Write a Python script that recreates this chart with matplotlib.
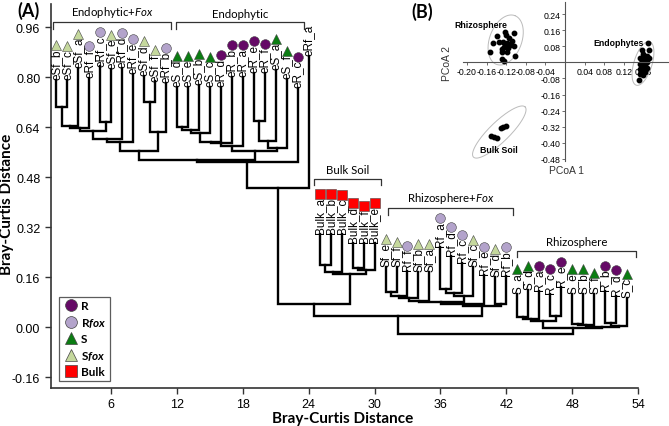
import matplotlib
matplotlib.use('Agg')
import matplotlib.pyplot as plt
from matplotlib.lines import Line2D
import numpy as np

plt.rcParams['font.family'] = 'Liberation Sans'
plt.rcParams['axes.unicode_minus'] = False
plt.rcParams['mathtext.fontset'] = 'custom'
plt.rcParams['mathtext.rm'] = 'Lato'
plt.rcParams['mathtext.it'] = 'Lato:italic'
plt.rcParams['mathtext.bf'] = 'Lato:bold'
plt.rcParams['mathtext.bfit'] = 'Lato:italic:bold'

# ---- dendrogram leaves (left to right) ----
leaf_labels = ['eSf_b', 'eSf_c', 'eSf_a', 'eRf_f', 'eRf_c', 'eSf_e', 'eRf_d', 'eRf_e',
               'eSf_d', 'eSf_f', 'eRf_b',
               'eS_d', 'eS_e', 'eS_b', 'eS_c', 'eR_d', 'eR_b', 'eR_a', 'eR_e', 'eR_f',
               'eS_a', 'eS_f', 'eR_c', 'eRf_a',
               'Bulk_a', 'Bulk_b', 'Bulk_c', 'Bulk_d', 'Bulk_f', 'Bulk_e',
               'Sf_e', 'Sf_f', 'Rf_f', 'Sf_b', 'Sf_a', 'Rf_a', 'Rf_d', 'Rf_c', 'Sf_c',
               'Rf_e', 'Sf_d', 'Rf_b',
               'S_a', 'S_d', 'R_a', 'R_c', 'R_e', 'S_e', 'S_b', 'S_f', 'R_b', 'R_d', 'S_c']
leaf_types = ['Sfox', 'Sfox', 'Sfox', 'Rfox', 'Rfox', 'Sfox', 'Rfox', 'Rfox',
              'Sfox', 'Sfox', 'Rfox',
              'S', 'S', 'S', 'S', 'R', 'R', 'R', 'R', 'R', 'S', 'S', 'R', None,
              'Bulk', 'Bulk', 'Bulk', 'Bulk', 'Bulk', 'Bulk',
              'Sfox', 'Sfox', 'Rfox', 'Sfox', 'Sfox', 'Rfox', 'Rfox', 'Rfox', 'Sfox',
              'Rfox', 'Sfox', 'Rfox',
              'S', 'S', 'R', 'R', 'R', 'S', 'S', 'S', 'R', 'R', 'S']
leaf_tips = [0.792, 0.792, 0.829, 0.797, 0.834, 0.826, 0.829, 0.810, 0.804, 0.786, 0.781,
             0.768, 0.768, 0.774, 0.768, 0.768, 0.800, 0.800, 0.813, 0.813, 0.822, 0.794,
             0.765, 0.867,
             0.298, 0.298, 0.298, 0.270, 0.270, 0.270,
             0.193, 0.193, 0.179, 0.177, 0.177, 0.257, 0.228, 0.204, 0.191, 0.166, 0.161, 0.164,
             0.106, 0.118, 0.115, 0.105, 0.127, 0.106, 0.106, 0.106, 0.115, 0.100, 0.094]

# merges: (new node, left child, right child, height)
merges = [
    ('a1', 'eSf_b', 'eSf_c', 0.705), ('a2', 'a1', 'eSf_a', 0.644),
    ('a3', 'a2', 'eRf_f', 0.636), ('a4', 'eRf_c', 'eSf_e', 0.657),
    ('a5', 'a3', 'a4', 0.628), ('a6', 'a5', 'eRf_d', 0.602),
    ('a7', 'a6', 'eRf_e', 0.593), ('a8', 'eSf_d', 'eSf_f', 0.721),
    ('a9', 'a8', 'eRf_b', 0.623), ('a10', 'a7', 'a9', 0.563),
    ('b1', 'eS_d', 'eS_e', 0.640), ('b2', 'b1', 'eS_b', 0.630),
    ('b3', 'b2', 'eS_c', 0.621), ('b4', 'b3', 'eR_d', 0.593),
    ('b5', 'b4', 'eR_b', 0.590), ('b6', 'b5', 'eR_a', 0.579),
    ('b7', 'eR_e', 'eR_f', 0.661), ('b8', 'b7', 'eS_a', 0.597),
    ('b9', 'b8', 'eS_f', 0.572), ('b10', 'b6', 'b9', 0.564),
    ('c1', 'a10', 'b10', 0.534), ('c2', 'c1', 'eR_c', 0.528),
    ('c3', 'c2', 'eRf_a', 0.445),
    ('d1', 'Bulk_a', 'Bulk_b', 0.200), ('d2', 'd1', 'Bulk_c', 0.175),
    ('d3', 'Bulk_d', 'Bulk_f', 0.190), ('d4', 'd3', 'Bulk_e', 0.183),
    ('d5', 'd2', 'd4', 0.170), ('e1', 'c3', 'd5', 0.074),
    ('f1', 'Sf_e', 'Sf_f', 0.111), ('f2', 'f1', 'Rf_f', 0.100),
    ('f3', 'f2', 'Sf_b', 0.093), ('f4', 'f3', 'Sf_a', 0.084),
    ('f5', 'Rf_a', 'Rf_d', 0.122), ('f6', 'f5', 'Rf_c', 0.109),
    ('f7', 'f6', 'Sf_c', 0.098), ('f8', 'f4', 'f7', 0.079),
    ('f9', 'f8', 'Rf_e', 0.073), ('f10', 'Sf_d', 'Rf_b', 0.075),
    ('f11', 'f9', 'f10', 0.068), ('e2', 'e1', 'f11', 0.034),
    ('g1', 'S_a', 'S_d', 0.031), ('g2', 'g1', 'R_a', 0.026),
    ('g3', 'R_c', 'R_e', 0.036), ('g4', 'g2', 'g3', 0.019),
    ('g5', 'S_e', 'S_b', 0.010), ('g6', 'g5', 'S_f', 0.006),
    ('g7', 'R_b', 'R_d', 0.013), ('g8', 'g7', 'S_c', 0.004),
    ('g9', 'g6', 'g8', 0.001), ('g10', 'g4', 'g9', -0.002),
    ('root', 'e2', 'g10', -0.022),
]

group_names = ['Endophytic+$\\mathit{Fox}$', 'Endophytic', 'Bulk Soil',
               'Rhizosphere+$\\mathit{Fox}$', 'Rhizosphere']
group_spans = [(0.7, 11.5), (11.9, 23.6), (24.5, 30.6), (31.2, 42.6), (43.0, 53.8)]
group_levels = [0.975, 0.975, 0.474, 0.380, 0.244]

type_names = ['R', 'Rfox', 'S', 'Sfox', 'Bulk']
type_labels = ['R', 'R$\\mathbfit{fox}$', 'S', 'S$\\mathbfit{fox}$', 'Bulk']
type_markers = ['o', 'o', '^', '^', 's']
type_colors = ['#650a66', '#b3a3cb', '#0b7d12', '#c5d89d', '#ff0000']

x_ticks = [6, 12, 18, 24, 30, 36, 42, 48, 54]
y_ticks = [0.96, 0.80, 0.64, 0.48, 0.32, 0.16, 0.00, -0.16]

# ---- PCoA inset points ----
rhizo_x = [-0.139, -0.122, -0.120, -0.105, -0.114, -0.146, -0.134, -0.126, -0.119, -0.109,
           -0.125, -0.116, -0.105, -0.129, -0.153, -0.128, -0.119, -0.102, -0.129, -0.125, -0.113]
rhizo_y = [0.133, 0.153, 0.137, 0.148, 0.123, 0.098, 0.103, 0.103, 0.095, 0.107,
           0.078, 0.070, 0.083, 0.067, 0.053, 0.053, 0.053, 0.033, 0.017, 0.007, 0.087]
endo_x = [0.170, 0.156, 0.172, 0.160, 0.167, 0.153, 0.163, 0.172, 0.156, 0.167, 0.160,
          0.153, 0.163, 0.156, 0.167, 0.152, 0.160, 0.154, 0.163, 0.152, 0.159, 0.150]
endo_y = [0.098, 0.062, 0.062, 0.040, 0.033, 0.023, 0.020, 0.023, 0.007, 0.003, -0.005,
          -0.010, -0.017, -0.027, -0.027, -0.033, -0.038, -0.050, -0.047, -0.060, -0.063, -0.088]
bulk_x = [-0.150, -0.138, -0.145, -0.126, -0.121, -0.131]
bulk_y = [-0.367, -0.377, -0.372, -0.322, -0.317, -0.325]

fig = plt.figure(figsize=(6.69, 4.27), dpi=100)
ax = fig.add_axes([0.0758, 0.089, 0.8779, 0.8993])
ax.set_xlim(0.5, 54.0)
ax.set_ylim(-0.195, 1.034)

node_x = {}
node_y = {}
for i, (name, tip) in enumerate(zip(leaf_labels, leaf_tips)):
    node_x[name] = i + 1
    node_y[name] = tip
for name, left, right, h in merges:
    xl, xr = node_x[left], node_x[right]
    ax.plot([xl, xl, xr, xr], [node_y[left], h, h, node_y[right]],
            color='black', lw=1.7, solid_joinstyle='miter', zorder=2)
    node_x[name] = (xl + xr) / 2.
    node_y[name] = h

texts = []
for i, (name, tip) in enumerate(zip(leaf_labels, leaf_tips)):
    t = ax.text(i + 1, tip + 0.003, name, rotation=90, ha='center', va='bottom',
                fontsize=8.5, zorder=3)
    texts.append(t)

for (x0, x1), lev, gname in zip(group_spans, group_levels, group_names):
    ax.plot([x0, x0, x1, x1], [lev - 0.02, lev, lev, lev - 0.02], color='#333333',
            lw=0.9, clip_on=False)
    ax.text((x0 + x1) / 2., lev + 0.012, gname, ha='center', va='bottom',
            fontsize=8.2, family='Lato')

fig.canvas.draw()
renderer = fig.canvas.get_renderer()
inv = ax.transData.inverted()
for i, (t, kind) in enumerate(zip(texts, leaf_types)):
    if kind is None:
        continue
    k = type_names.index(kind)
    bb = t.get_window_extent(renderer)
    ym = inv.transform((0, bb.y1 + 3))[1]
    ax.plot(i + 1, ym, marker=type_markers[k], color=type_colors[k], ms=7,
            mec='#444444', mew=0.4, ls='none', clip_on=False, zorder=4)

handles = [Line2D([], [], marker=m, color=c, ms=8.5, mec='#444444', mew=0.5, ls='none')
           for m, c in zip(type_markers, type_colors)]
leg = ax.legend(handles, type_labels, loc='lower left', bbox_to_anchor=(0.0146, 0.019),
                borderaxespad=0, frameon=True, fancybox=False, handletextpad=0.2,
                handlelength=1.3, labelspacing=0.38, borderpad=0.3,
                prop={'family': 'Lato', 'weight': 'bold', 'size': 8.5})
leg.get_frame().set_edgecolor('#333333')
leg.get_frame().set_linewidth(0.9)

for s in ['top', 'right']:
    ax.spines[s].set_visible(False)
for s in ['left', 'bottom']:
    ax.spines[s].set_linewidth(1.2)
    ax.spines[s].set_color('#333333')
ax.set_xticks(x_ticks)
ax.set_yticks(y_ticks)
ax.set_yticklabels(['%.2f' % v for v in y_ticks])
ax.tick_params(labelsize=9, length=4, width=1.0, color='#333333')

fig.text(343 / 669., 1 - 419 / 427., 'Bray-Curtis Distance', ha='center', va='center',
         fontsize=11, fontweight='bold', family='Lato')
fig.text(7.5 / 669., 1 - 204 / 427., 'Bray-Curtis Distance', ha='center', va='center',
         rotation=90, fontsize=11, fontweight='bold', family='Lato')
fig.text(28 / 669., 1 - 11 / 427., '(A)', ha='center', va='center', fontsize=13,
         fontweight='bold', family='Lato')
fig.text(422 / 669., 1 - 12 / 427., '(B)', ha='center', va='center', fontsize=13,
         fontweight='bold', family='Lato')

# ---- PCoA inset ----
ax2 = fig.add_axes([463 / 669., 1 - 161.7 / 427., 205 / 669., 158.4 / 427.])
ax2.patch.set_alpha(0)
ax2.set_xlim(-0.208, 0.21)
ax2.set_ylim(-0.49, 0.30)
ax2.spines['left'].set_position(('data', 0))
ax2.spines['bottom'].set_position(('data', 0))
ax2.spines['top'].set_visible(False)
ax2.spines['right'].set_visible(False)
for s in ['left', 'bottom']:
    ax2.spines[s].set_color('#555555')
    ax2.spines[s].set_linewidth(0.8)
px_ticks = [-0.20, -0.16, -0.12, -0.08, -0.04, 0.04, 0.08, 0.12, 0.16]
py_ticks = [0.24, 0.16, 0.08, -0.08, -0.16, -0.24, -0.32, -0.40, -0.48]
ax2.set_xticks(px_ticks)
ax2.set_xticklabels(['%.2f' % v for v in px_ticks])
ax2.set_yticks(py_ticks)
ax2.set_yticklabels(['%.2f' % v for v in py_ticks])
ax2.tick_params(labelsize=6.3, length=2, width=0.6, pad=1, color='#555555')

t = np.linspace(0, 2 * np.pi, 200)
ellipses = [((-0.121, 0.112), (0.0188, 0.1215), (0.0306, -0.0285)),
            ((0.159, -0.005), (0.0137, 0.1085), (0.0176, -0.0135)),
            ((-0.134, -0.347), (0.0527, 0.125), (0.0141, -0.036))]
for c, a, b in ellipses:
    ax2.plot(c[0] + np.cos(t) * a[0] + np.sin(t) * b[0],
             c[1] + np.cos(t) * a[1] + np.sin(t) * b[1], color='#bbbbbb', lw=0.7)
for xs, ys in [(rhizo_x, rhizo_y), (endo_x, endo_y), (bulk_x, bulk_y)]:
    ax2.plot(xs, ys, 'o', color='black', ms=3.2, ls='none', clip_on=False)
ax2.text(-0.172, 0.19, 'Rhizosphere', ha='center', va='center', fontsize=6.3,
         fontweight='bold', clip_on=False)
ax2.text(0.110, 0.098, 'Endophytes', ha='center', va='center', fontsize=6.3,
         fontweight='bold')
ax2.text(-0.135, -0.433, 'Bulk Soil', ha='center', va='center', fontsize=6.3,
         fontweight='bold')
ax2.text(-0.24, 0.0, 'PCoA 2', ha='center', va='center', rotation=90, fontsize=7.5,
         color='#333333')
ax2.text(0.003, -0.538, 'PCoA 1', ha='center', va='center', fontsize=7.5,
         color='#333333', clip_on=False)

fig.savefig('out.png', dpi=100)
